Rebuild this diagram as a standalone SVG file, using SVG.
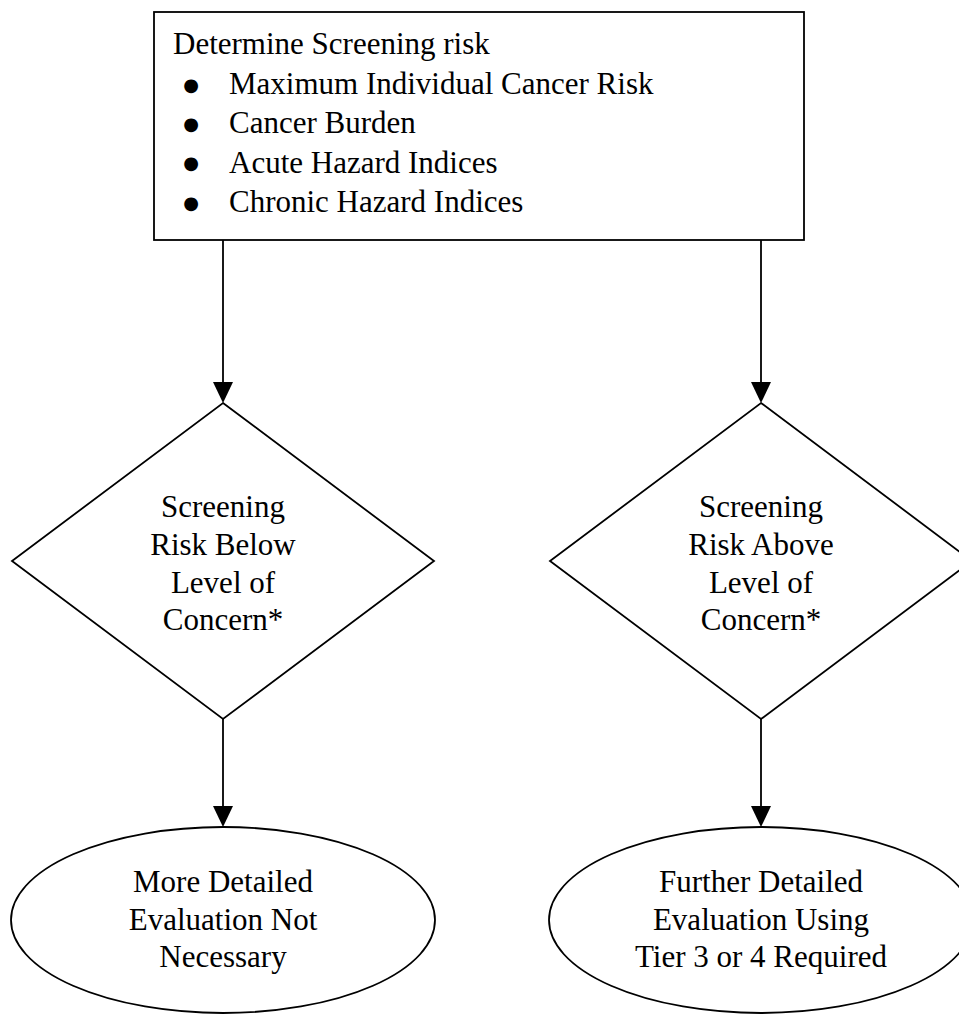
<svg xmlns="http://www.w3.org/2000/svg" width="959" height="1015" viewBox="0 0 959 1015">
<style>
  .shape { fill: #fff; stroke: #000; stroke-width: 1.8; }
  .conn { stroke: #000; stroke-width: 1.8; fill: none; }
  .head { fill: #000; }
  text { font-family: "Liberation Serif", "Times New Roman", serif; font-size: 31px; fill: #000; }
  .c { text-anchor: middle; }
  .bullet { font-family: "DejaVu Sans", sans-serif; font-size: 18px; text-anchor: middle; }
</style>
<rect width="959" height="1015" fill="#fff"/>
<g id="connectors">
  <line class="conn" x1="223" y1="240" x2="223" y2="382"/>
  <path class="head" d="M213,382 L233,382 L223,403 Z"/>
  <line class="conn" x1="761" y1="240" x2="761" y2="382"/>
  <path class="head" d="M751,382 L771,382 L761,403 Z"/>
  <line class="conn" x1="223" y1="719" x2="223" y2="806"/>
  <path class="head" d="M213,806 L233,806 L223,827 Z"/>
  <line class="conn" x1="761" y1="719" x2="761" y2="806"/>
  <path class="head" d="M751,806 L771,806 L761,827 Z"/>
</g>
<g id="start">
  <rect class="shape" x="154" y="12" width="650" height="228" stroke-width="2.2"/>
  <text x="173" y="54">Determine Screening risk</text>
  <text class="bullet" x="191" y="91">●</text><text x="229" y="94">Maximum Individual Cancer Risk</text>
  <text class="bullet" x="191" y="130">●</text><text x="229" y="133">Cancer Burden</text>
  <text class="bullet" x="191" y="169">●</text><text x="229" y="173">Acute Hazard Indices</text>
  <text class="bullet" x="191" y="209">●</text><text x="229" y="212">Chronic Hazard Indices</text>
</g>
<g id="below">
  <polygon class="shape" points="223,403 434,561 223,719 12,561"/>
  <text class="c" x="223" y="517">Screening</text>
  <text class="c" x="223" y="555">Risk Below</text>
  <text class="c" x="223" y="593">Level of</text>
  <text class="c" x="223" y="630">Concern*</text>
</g>
<g id="above">
  <polygon class="shape" points="761,403 972,561 761,719 550,561"/>
  <text class="c" x="761" y="517">Screening</text>
  <text class="c" x="761" y="555">Risk Above</text>
  <text class="c" x="761" y="593">Level of</text>
  <text class="c" x="761" y="630">Concern*</text>
</g>
<g id="not-necessary">
  <ellipse class="shape" cx="223" cy="920" rx="212" ry="93"/>
  <text class="c" x="223" y="892">More Detailed</text>
  <text class="c" x="223" y="930">Evaluation Not</text>
  <text class="c" x="223" y="967">Necessary</text>
</g>
<g id="required">
  <ellipse class="shape" cx="761" cy="920" rx="212" ry="93"/>
  <text class="c" x="761" y="892">Further Detailed</text>
  <text class="c" x="761" y="930">Evaluation Using</text>
  <text class="c" x="761" y="967">Tier 3 or 4 Required</text>
</g>
</svg>
